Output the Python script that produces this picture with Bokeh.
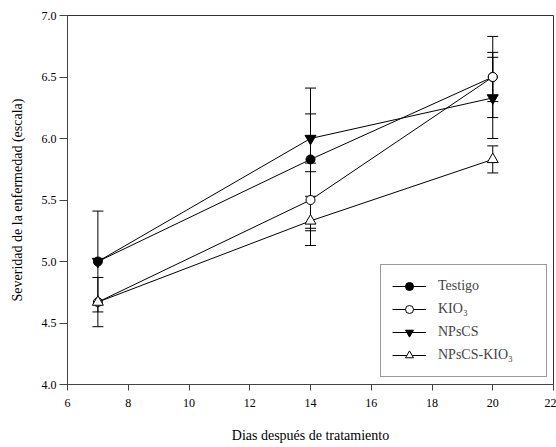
from bokeh.plotting import figure
from bokeh.models import (ColumnDataSource, Whisker, TeeHead, Legend, LegendItem,
                          Range1d, FixedTicker, NumeralTickFormatter)
from bokeh.embed import file_html
from bokeh.resources import INLINE

days = [7, 14, 20]
series_names = ["Testigo", "KIO\u2083", "NPsCS", "NPsCS-KIO\u2083"]
testigo = [5.0, 5.83, 6.5]
testigo_se = [0.41, 0.58, 0.33]
kio3 = [4.67, 5.5, 6.5]
kio3_se = [0.2, 0.23, 0.2]
npscs = [5.0, 6.0, 6.33]
npscs_se = [0.0, 0.2, 0.33]
npscs_kio3 = [4.67, 5.33, 5.83]
npscs_kio3_se = [0.0, 0.2, 0.11]
x_ticks = [6, 8, 10, 12, 14, 16, 18, 20, 22]
y_ticks = [4.0, 4.5, 5.0, 5.5, 6.0, 6.5, 7.0]

FONT = "Liberation Serif"

p = figure(width=556, height=447, output_backend="svg", toolbar_location=None,
           x_range=Range1d(6, 22), y_range=Range1d(4, 7),
           min_border_left=67, min_border_right=3, min_border_top=15, min_border_bottom=63)
p.xgrid.visible = False
p.ygrid.visible = False
p.outline_line_color = "#333333"
p.outline_line_width = 1
p.background_fill_color = "white"
p.border_fill_color = "white"

p.xaxis.ticker = FixedTicker(ticks=x_ticks)
p.yaxis.ticker = FixedTicker(ticks=y_ticks)
p.yaxis.formatter = NumeralTickFormatter(format="0.0")
for ax in (p.xaxis[0], p.yaxis[0]):
    ax.minor_tick_line_color = None
    ax.major_tick_in = 0
    ax.axis_line_color = "#444444"
    ax.major_tick_line_color = "#444444"
    ax.major_label_text_font = FONT
    ax.major_label_text_font_size = "12px"
    ax.major_label_text_color = "black"
    ax.axis_label_text_font = FONT
    ax.axis_label_text_font_size = "14px"
    ax.axis_label_text_font_style = "normal"
    ax.axis_label_text_color = "black"
p.xaxis.major_tick_out = 6
p.yaxis.major_tick_out = 8
p.xaxis.major_label_standoff = 8
p.yaxis.major_label_standoff = 3
p.xaxis.axis_label = "Dias después de tratamiento"
p.yaxis.axis_label = "Severidad de la enfermedad (escala)"
p.xaxis.axis_label_standoff = 18
p.yaxis.axis_label_standoff = 14

series = [
    (testigo, testigo_se, "circle", "black", 9),
    (kio3, kio3_se, "circle", "white", 9),
    (npscs, npscs_se, "inverted_triangle", "black", 11),
    (npscs_kio3, npscs_kio3_se, "triangle", "white", 11),
]

items = []
for name, (vals, se, marker, fill, size) in zip(series_names, series):
    ex = [d for d, s in zip(days, se) if s > 0]
    up = [v + s for v, s in zip(vals, se) if s > 0]
    lo = [v - s for v, s in zip(vals, se) if s > 0]
    es = ColumnDataSource(dict(x=ex, upper=up, lower=lo))
    w = Whisker(source=es, base="x", upper="upper", lower="lower",
                line_color="black", line_width=1, level="underlay",
                upper_head=TeeHead(size=11, line_color="black", line_width=1),
                lower_head=TeeHead(size=11, line_color="black", line_width=1))
    p.add_layout(w)
    src = ColumnDataSource(dict(x=days, y=vals))
    ln = p.line("x", "y", source=src, line_color="black", line_width=1)
    sc = p.scatter("x", "y", source=src, marker=marker, size=size,
                   fill_color=fill, line_color="black", line_width=1)
    items.append(LegendItem(label=name, renderers=[ln, sc]))

legend = Legend(items=items, location=(313, 7))
legend.label_text_font = FONT
legend.label_text_font_size = "14px"
legend.glyph_width = 34
legend.glyph_height = 20
legend.label_height = 20
legend.label_width = 97
legend.spacing = 3
legend.padding = 11
legend.margin = 0
legend.label_standoff = 12
legend.border_line_color = "#333333"
legend.border_line_width = 1
legend.background_fill_alpha = 1
p.add_layout(legend)

open("out.html", "w").write(file_html(p, INLINE))
